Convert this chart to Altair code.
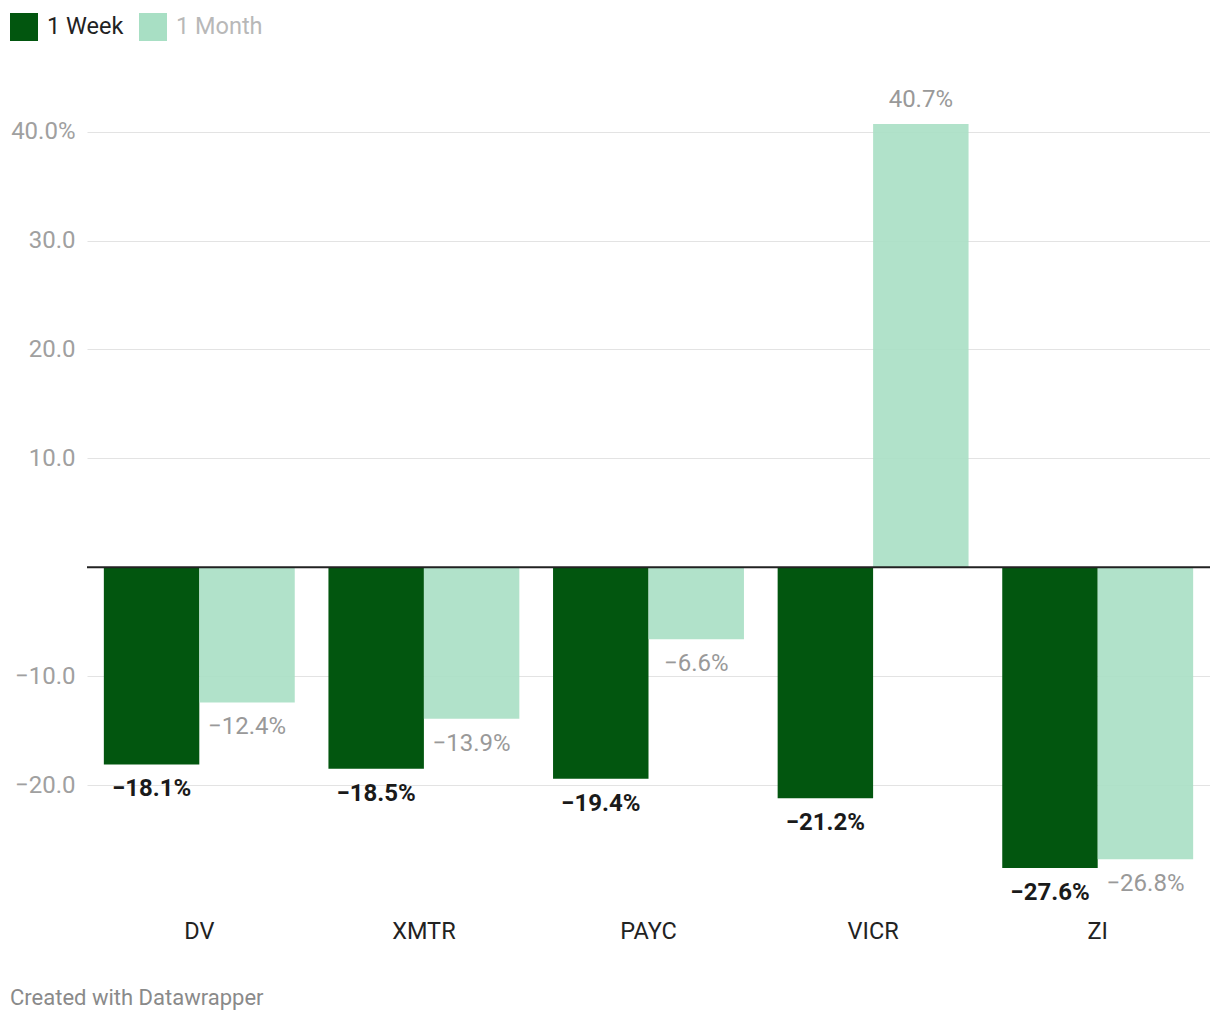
import altair as alt
import pandas as pd

categories = ["DV", "XMTR", "PAYC", "VICR", "ZI"]
week_values = [-18.1, -18.5, -19.4, -21.2, -27.6]
month_values = [-12.4, -13.9, -6.6, 40.7, -26.8]
series_names = ["1 Week", "1 Month"]
y_ticks = [-20, -10, 10, 20, 30, 40]

rows = []
for c, w, m in zip(categories, week_values, month_values):
    rows.append({"cat": c, "series": series_names[0], "value": w})
    rows.append({"cat": c, "series": series_names[1], "value": m})
df = pd.DataFrame(rows)

FONT = "Roboto"
DARK = "#02560f"
LIGHT = "#a8dfc4"

xenc = alt.X("cat:N", sort=categories,
             scale=alt.Scale(paddingInner=0.15, paddingOuter=0.075),
             axis=alt.Axis(title=None, orient="bottom", domain=False, ticks=False,
                           labelFont=FONT, labelFontSize=23.5, labelColor="#222",
                           labelPadding=14, labelAngle=0))
xoff = alt.XOffset("series:N", sort=series_names,
                   scale=alt.Scale(paddingInner=0, paddingOuter=0))
yscale = alt.Scale(domain=[-31, 44], nice=False, zero=False)

base = alt.Chart(df)

bars = base.mark_bar().encode(
    x=xenc,
    xOffset=xoff,
    y=alt.Y("value:Q", scale=yscale,
            axis=alt.Axis(title=None, values=y_ticks, domain=False, ticks=False,
                          grid=True, gridColor="#e3e3e3", gridWidth=1,
                          labelFont=FONT, labelFontSize=24, labelColor="#a0a0a0",
                          labelPadding=12,
                          labelExpr="datum.value == 40 ? '40.0%' : replace(format(datum.value, '.1f'), '-', '\u2212')")),
    color=alt.Color("series:N", sort=series_names,
                    scale=alt.Scale(domain=series_names, range=[DARK, LIGHT]),
                    legend=alt.Legend(title=None, orient="none", legendX=-77, legendY=-75,
                                      direction="horizontal", symbolType="square",
                                      symbolSize=784, symbolStrokeWidth=0, symbolOpacity=1,
                                      labelFont=FONT, labelFontSize=23.5,
                                      labelColor={"expr": "datum.label == '1 Week' ? '#222222' : '#b8b8b8'"},
                                      labelOffset=9, columnPadding=15, padding=0)),
    opacity=alt.condition("datum.series == '1 Week'", alt.value(1), alt.value(0.9)),
)

def label_layer(series, negative, color, weight, dy):
    cond = "datum.value < 0" if negative else "datum.value >= 0"
    return base.transform_filter(
        f"datum.series == '{series}' && {cond}"
    ).transform_calculate(
        label="replace(format(datum.value, '.1f'), '-', '\u2212') + '%'"
    ).mark_text(font=FONT, fontSize=24, fontWeight=weight, color=color,
                baseline="middle", dy=dy).encode(
        x=alt.X("cat:N", sort=categories),
        xOffset=xoff,
        y=alt.Y("value:Q", scale=yscale),
        text="label:N",
    )

labels = [
    label_layer("1 Week", True, "#1a1a1a", "bold", 25),
    label_layer("1 Week", False, "#1a1a1a", "bold", -24),
    label_layer("1 Month", True, "#999999", "normal", 25),
    label_layer("1 Month", False, "#999999", "normal", -24),
]

zero = alt.Chart(pd.DataFrame({"v": [0]})).mark_rule(color="#222", strokeWidth=2).encode(
    y=alt.Y("v:Q", scale=yscale))

chart = alt.layer(bars, *labels, zero).properties(
    width=1123, height=817,
    background="white",
    autosize=alt.AutoSizeParams(type="none"),
    padding={"left": 79, "top": 80, "right": 0, "bottom": 110},
    title=alt.TitleParams("Created with Datawrapper", orient="bottom", anchor="start",
                          frame="group", dx=-77, offset=45, font=FONT, fontSize=22,
                          fontWeight="normal", color="#8a8a8a"),
).configure_view(strokeWidth=0, stroke="transparent")

chart.save("out.html", embed_options={"renderer": "svg", "actions": False})
